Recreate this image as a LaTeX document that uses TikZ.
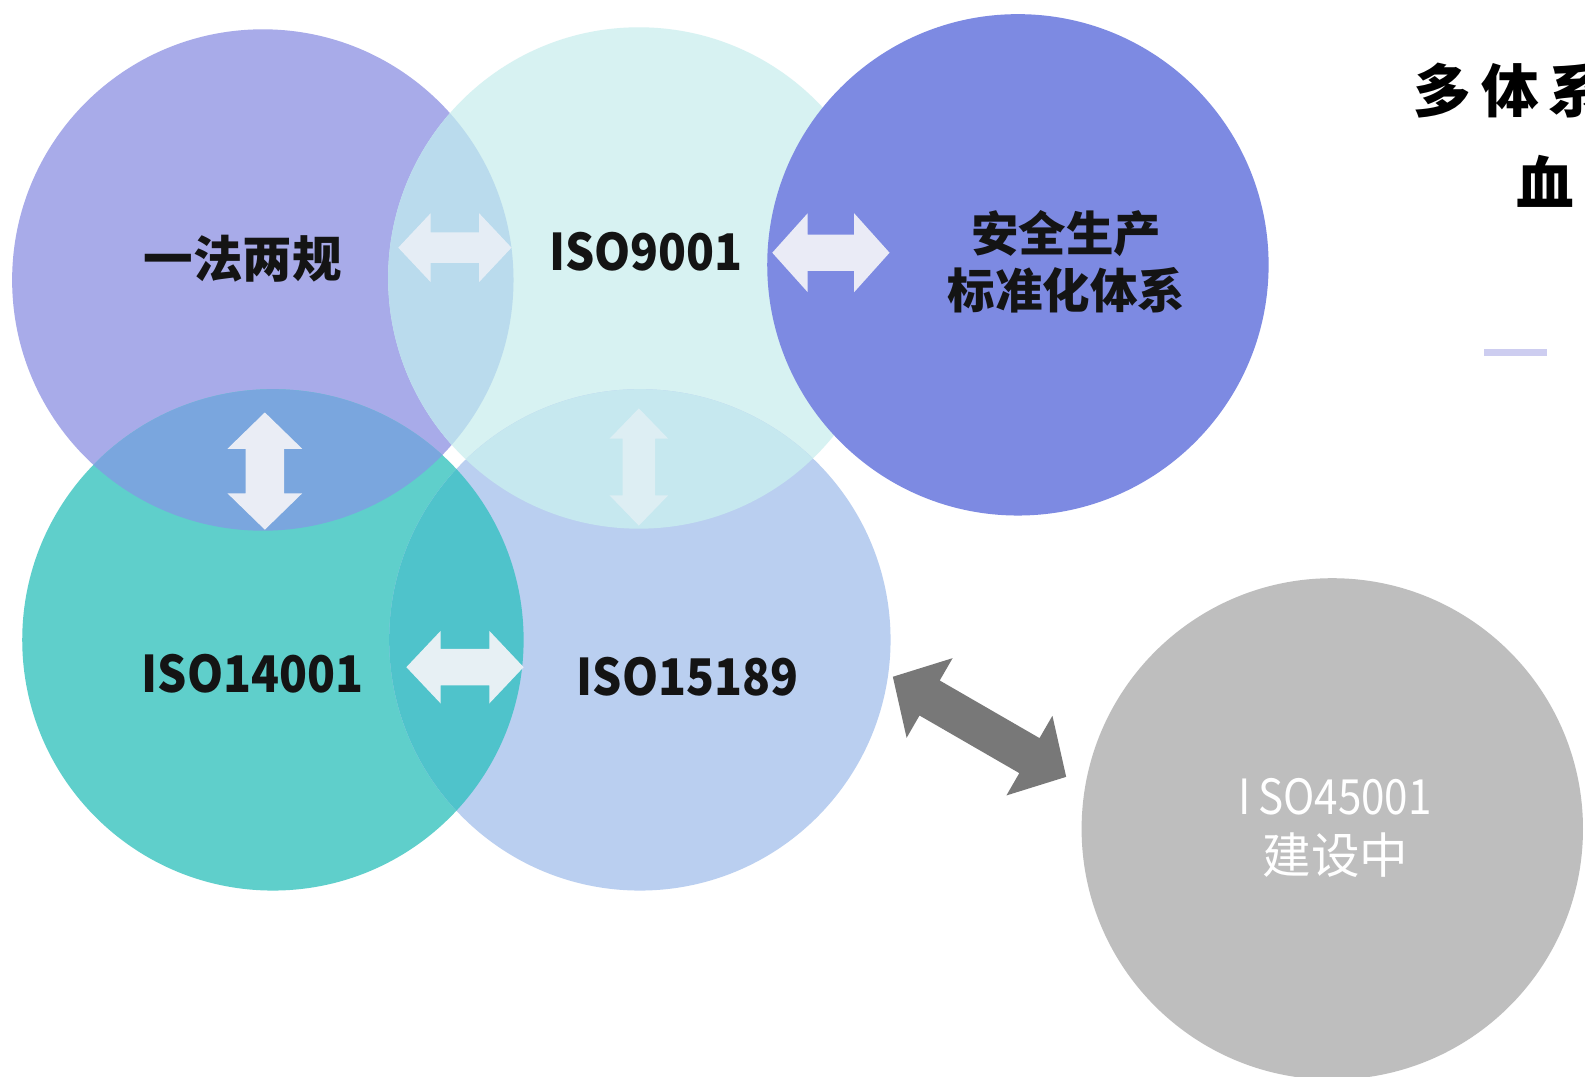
\documentclass[tikz,border=0pt]{standalone}
\usepackage{fontspec}
\setmainfont{Noto Sans CJK SC}
\definecolor{cA}{RGB}{168,171,233}
\definecolor{cB}{RGB}{215,242,242}
\definecolor{cC}{RGB}{125,138,226}
\definecolor{cD}{RGB}{95,207,203}
\definecolor{cE}{RGB}{186,207,240}
\definecolor{cF}{RGB}{190,190,190}
\definecolor{cAB}{RGB}{186,219,237}
\definecolor{cAD}{RGB}{122,166,222}
\definecolor{cDE}{RGB}{79,195,203}
\definecolor{cBE}{RGB}{198,232,239}
\definecolor{arrowgray}{RGB}{120,120,120}
\definecolor{arrowwhite}{RGB}{244,244,248}
\definecolor{dashlav}{RGB}{205,205,240}
\definecolor{txt}{RGB}{20,20,20}
\newcommand\myblockarrow[7]{%
  \begin{scope}[shift={(#1)},rotate=#2]
    \pgfmathsetmacro\La{#3/2}\pgfmathsetmacro\Sa{#4/2}%
    \pgfmathsetmacro\Ha{#5/2}\pgfmathsetmacro\Ka{#3/2-#6}%
    \fill[#7] (-\La,0) -- (-\Ka,\Ha) -- (-\Ka,\Sa) -- (\Ka,\Sa) -- (\Ka,\Ha) -- (\La,0)
      -- (\Ka,-\Ha) -- (\Ka,-\Sa) -- (-\Ka,-\Sa) -- (-\Ka,-\Ha) -- cycle;
  \end{scope}}
\newcommand\isotext[1]{\scalebox{0.91}[1]{#1}}
\tikzset{
  label/.style={inner sep=0pt, text=txt, font=\bfseries\fontsize{25}{29}\selectfont, align=center},
  isolabel/.style={label, font=\bfseries\fontsize{25}{29}\selectfont},
  whitearrow/.style={fill=arrowwhite, fill opacity=0.92},
}
\begin{document}
\begin{tikzpicture}[x=0.5pt,y=-0.5pt]
\useasboundingbox (0,0) rectangle (1568,1065);
\fill[white] (0,0) rectangle (1568,1065);
\clip (0,0) rectangle (1568,1065);
\def\R{124pt}
\coordinate (c1) at (260,277);
\coordinate (c2) at (632,275);
\coordinate (c3) at (1007,262);
\coordinate (c4) at (270,633);
\coordinate (c5) at (633,633);
\coordinate (c6) at (1318,820);
% base circles
\fill[cA] (c1) circle[radius=\R];
\fill[cB] (c2) circle[radius=\R];
\fill[cD] (c4) circle[radius=\R];
\fill[cE] (c5) circle[radius=\R];
% overlaps
\begin{scope}
  \clip (c1) circle[radius=\R];
  \fill[cAB] (c2) circle[radius=\R];
  \fill[cAD] (c4) circle[radius=\R];
\end{scope}
\begin{scope}
  \clip (c5) circle[radius=\R];
  \fill[cDE] (c4) circle[radius=\R];
  \fill[cBE] (c2) circle[radius=\R];
\end{scope}
\fill[cC] (c3) circle[radius=\R];
\fill[cF] (c6) circle[radius=\R];
% arrows
\coordinate (a1) at (450,245);
\coordinate (a2) at (822,250);
\coordinate (a3) at (262,466);
\coordinate (a4) at (632,462);
\coordinate (a5) at (460,660);
\coordinate (a6) at (969,719);
\myblockarrow{a1}{0}{112}{30}{68}{32}{fill=arrowwhite, fill opacity=0.75}
\myblockarrow{a2}{0}{116}{36}{78}{35}{whitearrow}
\myblockarrow{a3}{90}{116}{38}{74}{36}{whitearrow}
\myblockarrow{a4}{90}{116}{32}{58}{30}{fill=arrowwhite, fill opacity=0.5}
\myblockarrow{a5}{0}{116}{36}{72}{34}{whitearrow}
\myblockarrow{a6}{-30}{198}{40}{91}{42}{fill=arrowgray}
% small dash
\fill[dashlav] (1468,345) rectangle (1530,352);
% labels
\node[label, font=\bfseries\fontsize{24.5}{29}\selectfont] (t1) at (240,256) {一法两规};
\node[isolabel] (t2) at (639,249) {\isotext{ISO9001}};
\node[label, font=\bfseries\fontsize{23.5}{28.5}\selectfont] (t3) at (1055,259) {安全生产\\标准化体系};
\node[isolabel] (t4) at (250,666) {\isotext{ISO14001}};
\node[isolabel] (t5) at (680,669) {\isotext{ISO15189}};
\node[inner sep=0pt, text=white, font=\fontsize{24}{29}\selectfont, align=center] (t6) at (1321,819) {\scalebox{0.87}[1]{I\,SO45001}\\建设中};
% title (cut off by the frame)
\node[inner sep=0pt, anchor=west, text=black, font=\bfseries\fontsize{28.5}{35}\selectfont] (ti1) at (1398,89) {多\hspace{5pt}体\hspace{5pt}系};
\node[inner sep=0pt, anchor=west, text=black, font=\bfseries\fontsize{28.5}{35}\selectfont] (ti2) at (1500,179) {血};
\end{tikzpicture}
\end{document}
